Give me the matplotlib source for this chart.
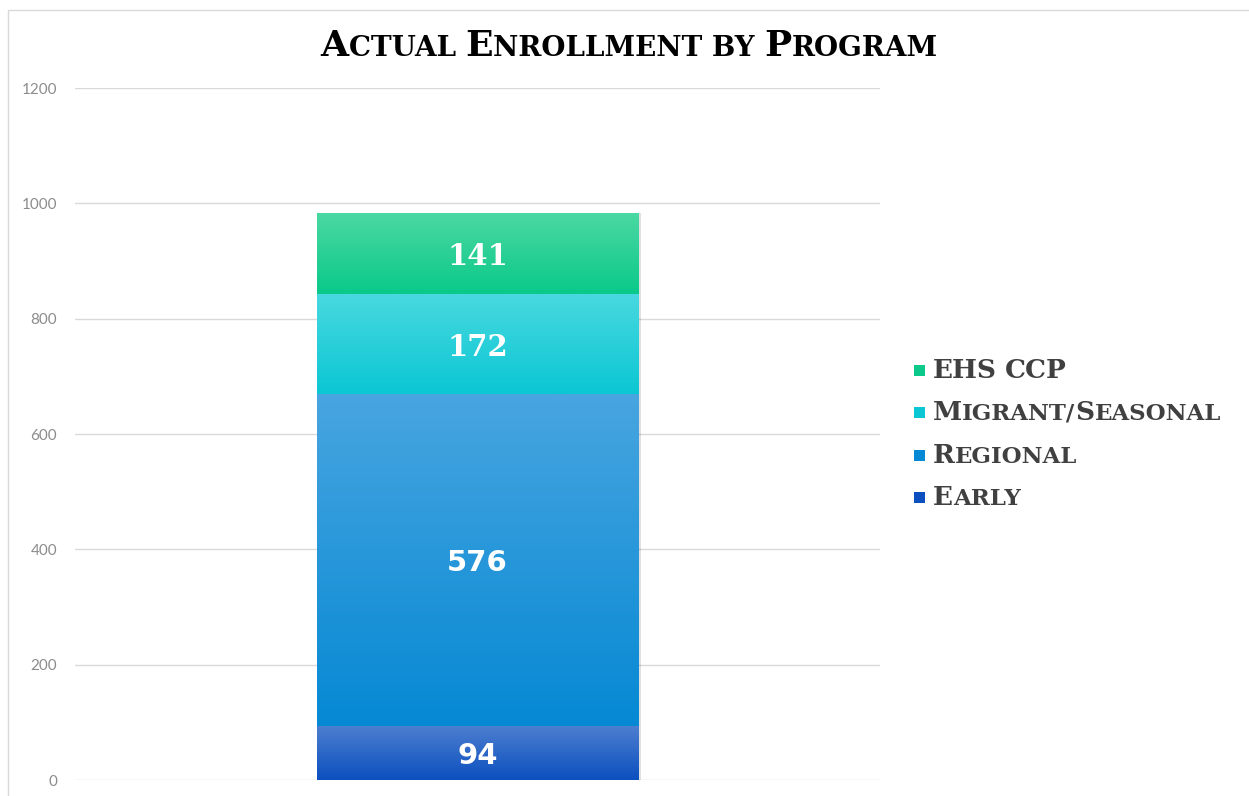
import numpy as np
import matplotlib
matplotlib.use('Agg')
import matplotlib.pyplot as plt
from matplotlib.colors import LinearSegmentedColormap
from matplotlib.patches import Rectangle

# data (bottom to top of the stack)
programs = ['Early', 'Regional', 'Migrant/Seasonal', 'EHS CCP']
enrollment = [94, 576, 172, 141]
# gradient colours: (top, bottom)
seg_colors = [('#4d7fd0', '#0c50bf'),
              ('#48a5e0', '#0689d4'),
              ('#48d8e0', '#0bc7d3'),
              ('#4cd8a2', '#0ac98a')]
label_fonts = ['DejaVu Sans', 'DejaVu Sans', 'DejaVu Serif', 'DejaVu Serif']
yticks = [0, 200, 400, 600, 800, 1000, 1200]

title = 'Actual Enrollment by Program'

W, H = 1249, 796
fig = plt.figure(figsize=(W / 100, H / 100), dpi=100)
ax = fig.add_axes([75 / W, 16 / H, 805 / W, 692 / H])

# outer chart frame
fig.patches.append(Rectangle((8 / W, -0.01), 1.02, 1 - 10 / H + 0.01,
                             transform=fig.transFigure, fill=False,
                             edgecolor='#d9d9d9', lw=1.0))

bottom = 0
for val, (ctop, cbot), lf in zip(enrollment, seg_colors, label_fonts):
    bar = ax.bar(0, val, width=0.4, bottom=bottom, color=cbot,
                 edgecolor='none', zorder=2)[0]
    cmap = LinearSegmentedColormap.from_list('g', [cbot, ctop])
    grad = np.linspace(0, 1, 64).reshape(-1, 1)
    im = ax.imshow(grad, extent=[-0.2, 0.2, bottom, bottom + val],
                   origin='lower', aspect='auto', cmap=cmap, zorder=3)
    im.set_clip_path(bar)
    ax.text(0, bottom + val / 2, str(val), ha='center', va='center_baseline',
            color='white', fontsize=21, fontweight='bold', family=lf,
            zorder=5)
    bottom += val

# soft shadow on right of bar
ax.bar(0.003, sum(enrollment), width=0.4, color='#000000', alpha=0.12,
       zorder=1)

ax.set_xlim(-0.5, 0.5)
ax.set_ylim(0, 1200)
ax.set_yticks(yticks)
ax.set_xticks([])
ax.grid(axis='y', color='#d9d9d9', lw=1.0, zorder=0)
ax.set_axisbelow(True)
for s in ax.spines.values():
    s.set_visible(False)
ax.tick_params(axis='y', length=0, pad=13, labelsize=11,
               labelcolor='#8c8c8c')
for t in ax.get_yticklabels():
    t.set_family('Lato')

renderer = fig.canvas.get_renderer()


def small_caps(x, y, text, big, small, color, ha='left', family='DejaVu Serif'):
    # fake small caps: capitals at big size, rest as smaller capitals
    runs = []
    for ch in text:
        size = big if ch.isupper() else small
        if runs and runs[-1][1] == size:
            runs[-1][0] += ch.upper()
        else:
            runs.append([ch.upper(), size])
    pieces = []
    cx = 0.0
    for s, size in runs:
        t = fig.text(x, y, s, fontsize=size, fontweight='bold', family=family,
                     color=color, va='baseline', ha='left')
        w = t.get_window_extent(renderer).width
        pieces.append((t, cx))
        cx += w
    shift = cx / 2 if ha == 'center' else 0
    for t, off in pieces:
        t.set_x(x + (off - shift) / W)


small_caps(629 / W, 1 - 56 / H, title, 26, 20, '#000000', ha='center')

# legend (top entry first)
leg_y = [370, 412, 455, 497]
for name, (ctop, cbot), yy in zip(programs[::-1], seg_colors[::-1], leg_y):
    fig.patches.append(Rectangle((914 / W, 1 - (yy + 6) / H), 11 / W, 11 / H,
                                 transform=fig.transFigure,
                                 facecolor=cbot, edgecolor='none'))
    small_caps(933 / W, 1 - (yy + 8) / H, name, 19, 16.5, '#404040')

fig.savefig('out.png', dpi=100)
